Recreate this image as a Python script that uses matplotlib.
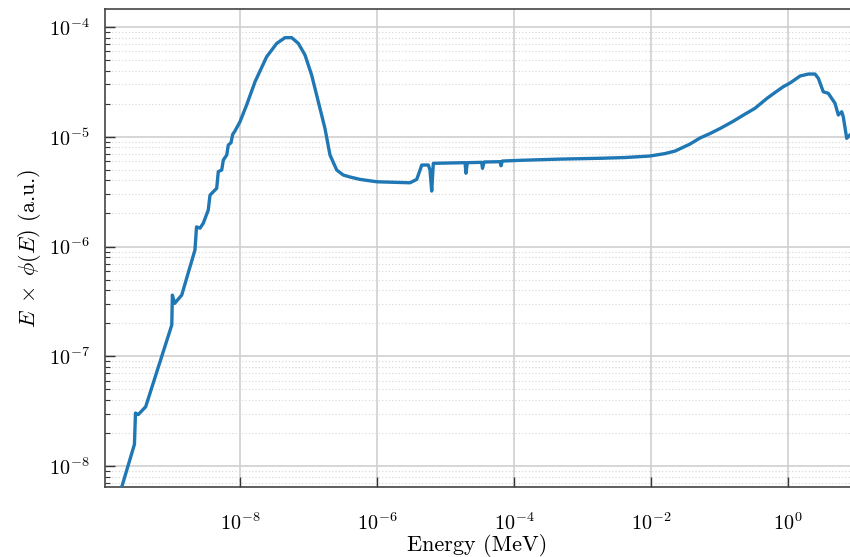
import matplotlib
matplotlib.use("Agg")
import matplotlib.pyplot as plt
import matplotlib.ticker as mticker
import numpy as np

# Neutron spectrum, lethargy form: E * phi(E) versus energy
energy_mev = [
    1.77e-10, 2.88e-10, 2.98e-10, 3.27e-10, 4.20e-10, 1.01e-9, 1.03e-9, 1.11e-9,
    1.41e-9, 2.20e-9, 2.32e-9, 2.61e-9, 2.91e-9, 3.44e-9, 3.65e-9, 4.08e-9,
    4.57e-9, 4.82e-9, 5.41e-9, 5.71e-9, 6.40e-9, 6.75e-9, 7.39e-9, 7.82e-9,
    8.45e-9, 1.00e-8, 1.25e-8, 1.66e-8, 2.45e-8, 3.44e-8, 4.54e-8, 5.69e-8,
    7.10e-8, 8.89e-8, 1.11e-7, 1.39e-7, 1.74e-7, 2.06e-7, 2.58e-7, 3.22e-7,
    4.04e-7, 5.65e-7, 1.00e-6, 3.03e-6, 3.80e-6, 4.25e-6, 4.50e-6, 5.61e-6,
    5.94e-6, 6.29e-6, 6.64e-6, 1.93e-5, 1.99e-5, 2.08e-5, 3.37e-5, 3.47e-5,
    3.65e-5, 6.25e-5, 6.46e-5, 6.74e-5, 1.22e-4, 4.70e-4, 1.80e-3, 4.17e-3,
    9.66e-3, 1.60e-2, 2.24e-2, 3.71e-2, 5.19e-2, 7.26e-2, 1.02e-1, 1.57e-1,
    0.236, 0.330, 0.493, 0.645, 0.853, 1.07, 1.50,
    1.98, 2.48, 2.77, 3.27, 3.87, 4.85, 5.42, 6.08,
    6.41, 7.19, 8.03,
]
e_phi = [
    5.68e-9, 1.58e-8, 3.04e-8, 2.94e-8, 3.47e-8, 1.93e-7, 3.61e-7, 3.03e-7,
    3.61e-7, 9.29e-7, 1.51e-6, 1.47e-6, 1.63e-6, 2.15e-6, 2.94e-6, 3.16e-6,
    3.39e-6, 4.81e-6, 4.98e-6, 6.14e-6, 6.82e-6, 8.41e-6, 8.83e-6, 1.05e-5,
    1.13e-5, 1.37e-5, 1.95e-5, 3.18e-5, 5.36e-5, 7.10e-5, 8.00e-5, 8.00e-5,
    7.10e-5, 5.56e-5, 3.66e-5, 2.09e-5, 1.19e-5, 6.82e-6, 4.98e-6, 4.48e-6,
    4.30e-6, 4.09e-6, 3.89e-6, 3.81e-6, 4.09e-6, 4.98e-6, 5.53e-6, 5.53e-6,
    4.98e-6, 3.20e-6, 5.73e-6, 5.81e-6, 4.65e-6, 5.81e-6, 5.85e-6, 5.16e-6,
    5.89e-6, 5.93e-6, 5.45e-6, 6.01e-6, 6.10e-6, 6.26e-6, 6.37e-6, 6.47e-6,
    6.68e-6, 7.03e-6, 7.41e-6, 8.59e-6, 9.75e-6, 1.07e-5, 1.19e-5, 1.38e-5,
    1.61e-5, 1.82e-5, 2.24e-5, 2.53e-5, 2.86e-5, 3.09e-5, 3.58e-5,
    3.73e-5, 3.73e-5, 3.41e-5, 2.57e-5, 2.49e-5, 2.02e-5, 1.58e-5, 1.69e-5,
    1.52e-5, 9.68e-6, 1.04e-5,
]

x_limits = (1.07e-10, 8.03)
y_limits = (6.44e-9, 1.46e-4)
x_ticks = [1e-8, 1e-6, 1e-4, 1e-2, 1e0]

plt.rcParams["mathtext.fontset"] = "cm"
plt.rcParams["font.family"] = "serif"
plt.rcParams["font.serif"] = ["cmr10", "DejaVu Serif"]
plt.rcParams["axes.formatter.use_mathtext"] = True

fig = plt.figure(figsize=(8.5, 5.57), dpi=100)
ax = fig.add_axes([105 / 850, 70 / 557, 745 / 850, 478 / 557])

ax.plot(energy_mev, e_phi, color="#1f77b4", lw=2.4, zorder=3)

ax.set_xscale("log")
ax.set_yscale("log")
ax.set_xlim(*x_limits)
ax.set_ylim(*y_limits)

ax.xaxis.set_major_locator(mticker.FixedLocator(x_ticks))
ax.xaxis.set_minor_locator(mticker.NullLocator())
ax.yaxis.set_major_locator(mticker.LogLocator(base=10, numticks=20))
ax.yaxis.set_minor_locator(mticker.LogLocator(base=10, subs=np.arange(2, 10), numticks=20))
ax.yaxis.set_minor_formatter(mticker.NullFormatter())

ax.grid(which="major", color="#cfcfcf", lw=1.2, ls="-", zorder=0)
ax.grid(which="minor", axis="y", color="#d6d6d6", lw=0.8, ls=(0, (1, 2)), zorder=0)

ax.tick_params(which="major", direction="in", length=7, width=1.0, labelsize=14.5, color="#333333")
ax.tick_params(axis="x", which="major", pad=18)
ax.tick_params(axis="y", which="major", pad=11)
ax.tick_params(which="minor", direction="in", length=3.5, width=0.8, color="#333333")

for side in ["left", "bottom", "top"]:
    ax.spines[side].set_color("#444444")
    ax.spines[side].set_linewidth(1.2)
ax.spines["right"].set_visible(False)

ax.set_xlabel("Energy (MeV)", fontsize=16, labelpad=0)
ax.set_ylabel(r"$E \;\times\; \phi(E)$ (a.u.)", fontsize=16, labelpad=4)

fig.savefig("out.png", dpi=100)
